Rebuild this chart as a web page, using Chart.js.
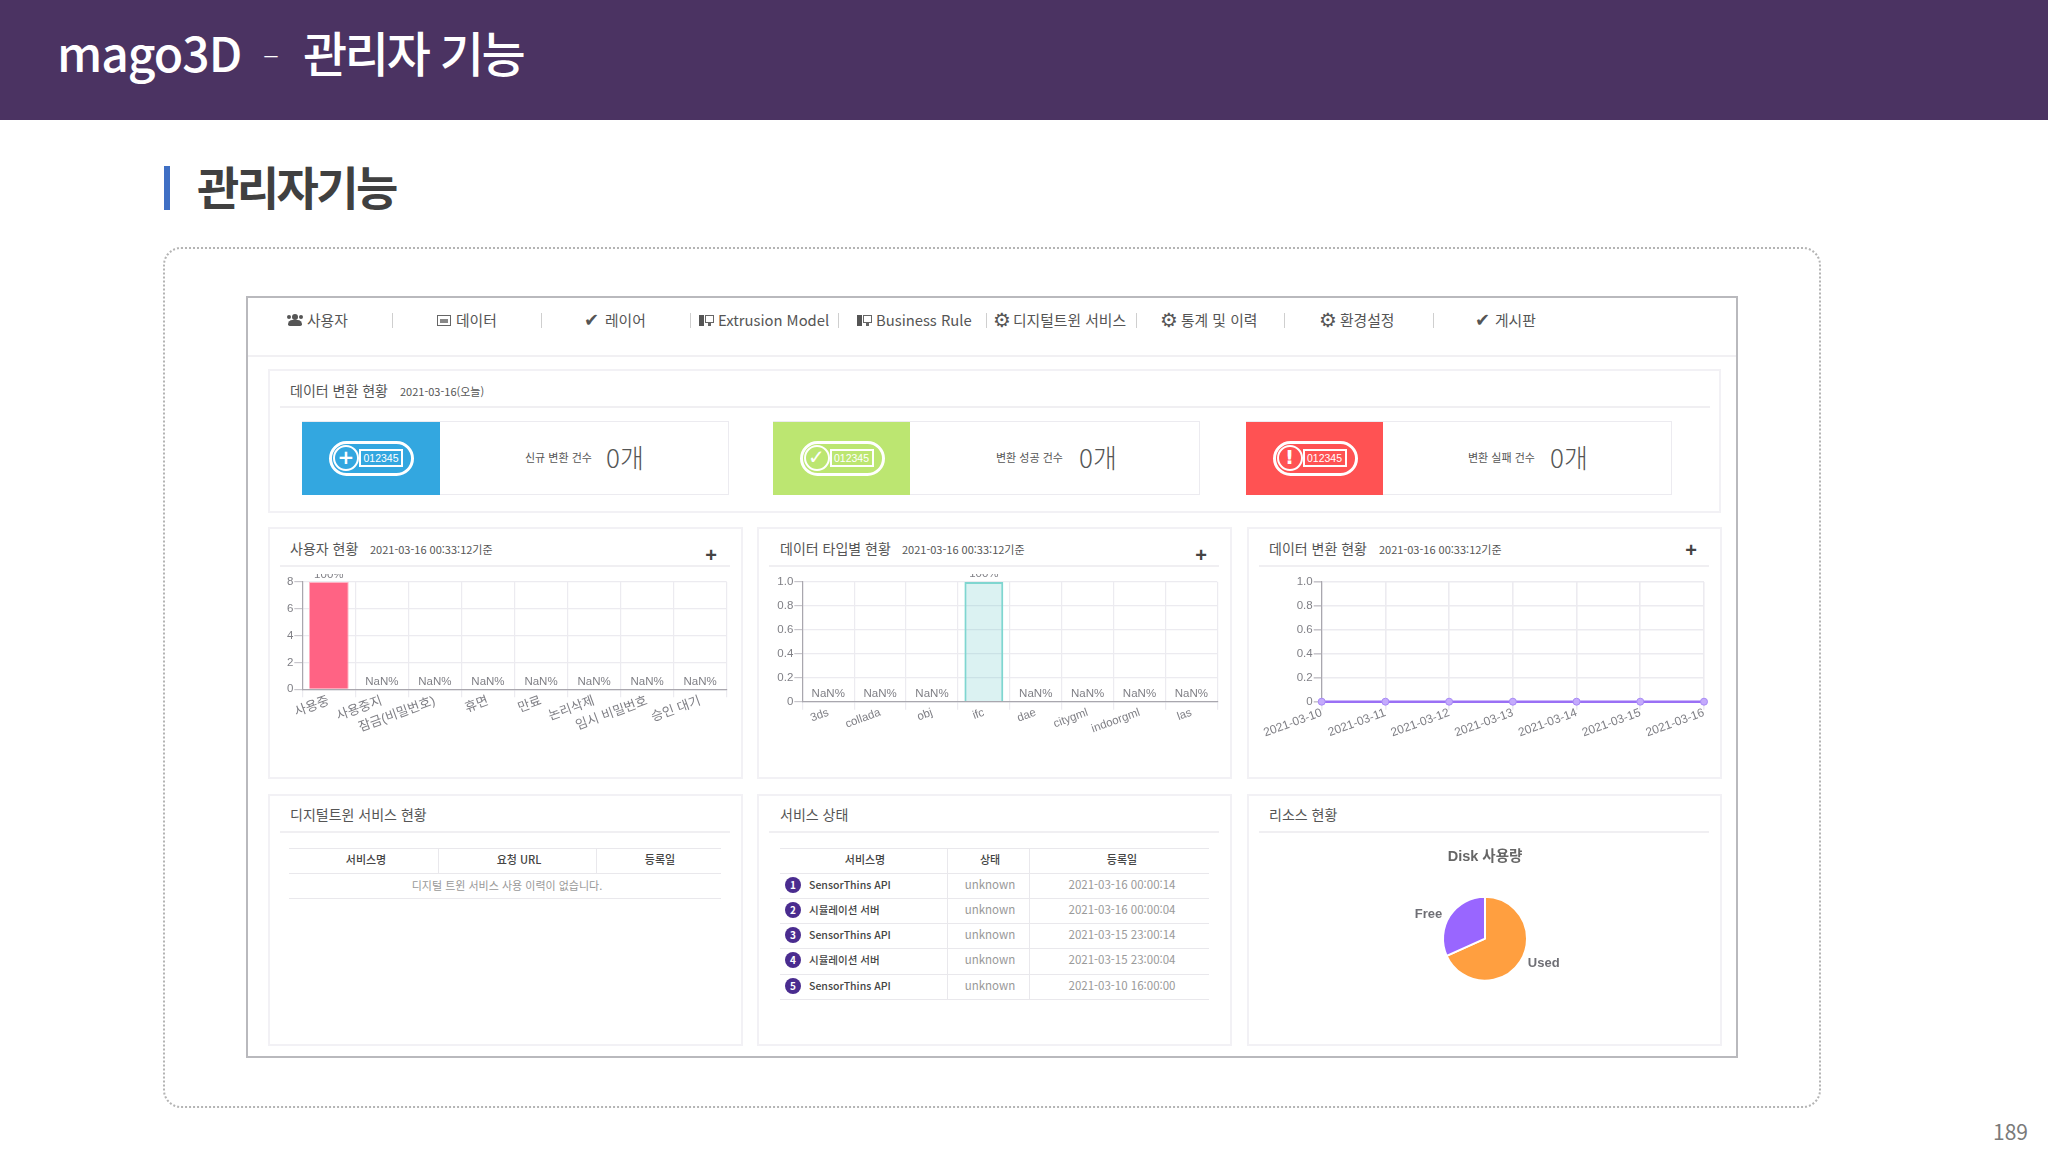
<!DOCTYPE html>
<html lang="ko"><head><meta charset="utf-8">
<script src="https://cdn.jsdelivr.net/npm/chart.js@4/dist/chart.umd.min.js"></script>
<style>
html,body{margin:0;padding:0;background:#fff;width:2048px;height:1152px;overflow:hidden}
body{font-family:"Noto Sans CJK KR","Noto Sans",sans-serif;position:relative}
.a{position:absolute;white-space:nowrap;line-height:1}
.b{position:absolute;box-sizing:border-box}
canvas{position:absolute;display:block}
</style></head><body>
<script>
// ---- chart data ----
const userCategories = ['사용중','사용중지','잠금(비밀번호)','휴면','만료','논리삭제','임시 비밀번호','승인 대기'];
const userValues = [8,0,0,0,0,0,0,0];
const userPercents = ['100%','NaN%','NaN%','NaN%','NaN%','NaN%','NaN%','NaN%'];
const typeCategories = ['3ds','collada','obj','ifc','dae','citygml','indoorgml','las'];
const typeValues = [0,0,0,1,0,0,0,0];
const typePercents = ['NaN%','NaN%','NaN%','100%','NaN%','NaN%','NaN%','NaN%'];
const convertDates = ['2021-03-10','2021-03-11','2021-03-12','2021-03-13','2021-03-14','2021-03-15','2021-03-16'];
const convertValues = [0,0,0,0,0,0,0];
const diskLabels = ['Used','Free'];
const diskValues = [68.3,31.7];
// ---- table data ----
const serviceNames = ['SensorThins API','시뮬레이션 서버','SensorThins API','시뮬레이션 서버','SensorThins API'];
const serviceStates = ['unknown','unknown','unknown','unknown','unknown'];
const serviceDates = ['2021-03-16 00:00:14','2021-03-16 00:00:04','2021-03-15 23:00:14','2021-03-15 23:00:04','2021-03-10 16:00:00'];

const body = document.body;
function T(s,x,y,size,color,weight,align){
  const e=document.createElement('div');e.className='a';e.textContent=s;
  e.style.cssText+=`left:${x}px;top:${y}px;font-size:${size}px;color:${color};font-weight:${weight||400};transform:translate(${align==='c'?'-50%':align==='r'?'-100%':'0'},-50%)`;
  body.appendChild(e);return e;
}
function B(x,y,w,h,css){
  const e=document.createElement('div');e.className='b';
  e.style.cssText+=`left:${x}px;top:${y}px;width:${w}px;height:${h}px;${css||''}`;
  body.appendChild(e);return e;
}
// slide chrome
B(0,0,2048,120,'background:#4b3362');
T('mago3D',57,51,48,'#fff',500).style.letterSpacing='-1px';
T('–',263,52,30,'#fff',300);
T('관리자 기능',303,51,48,'#fff',500).style.letterSpacing='-2.3px';
B(164,166,6,44,'background:#3f6fc4');
T('관리자기능',197,185,46,'#404040',700).style.letterSpacing='-2.6px';
B(163,247,1658,861,'border:2px dotted #b4b4b4;border-radius:18px');
T('189',2028,1131,21,'#7a7a7a',400,'r');
// screenshot frame
B(246,296,1492,762,'border:2px solid #b9b9bd;background:#fff');
B(248,355,1488,2,'background:#f1f0f3');
// nav
function icon(kind,x){
  if(kind==='check')T('✔',x,320,18,'#555',400).style.fontFamily='DejaVu Sans';
  else if(kind==='gear')T('⚙',x-1,320,20,'#555',700).style.fontFamily='DejaVu Sans';
  else if(kind==='users'){B(x+5,314,6,6,'background:#555;border-radius:50%');B(x+1,320,14,6,'background:#555;border-radius:5px 5px 2px 2px');B(x,315,4,4,'background:#555;border-radius:50%');B(x+12,315,4,4,'background:#555;border-radius:50%');}
  else if(kind==='data'){B(x,315,14,11,'border:1.5px solid #666');B(x+3,319,8,4,'background:#888');}
  else if(kind==='model'){B(x,315,5,11,'background:#555');B(x+6,315,9,8,'border:1.5px solid #666');B(x+9,323,3,3,'background:#666');}
}
[['users',287,'사용자',307],['data',437,'데이터',456],['check',584,'레이어',605],['model',699,'Extrusion Model',718],['model',857,'Business Rule',876],['gear',994,'디지털트윈 서비스',1013],['gear',1161,'통계 및 이력',1181],['gear',1320,'환경설정',1340],['check',1475,'게시판',1495]]
.forEach(n=>{icon(n[0],n[1]);T(n[2],n[3],320,14.8,'#555',400);});
[392,541,690,838,986,1136,1284,1433].forEach(x=>B(x,313,1,15,'background:#cfcfcf'));
// panels
const pb='border:2px solid #f2f1f5;background:#fff';
B(268,369,1453,144,pb);
B(280,406,1430,2,'background:#f0eff2');
T('데이터 변환 현황',290,390,14,'#555');
T('2021-03-16(오늘)',400,391,11,'#555');
function card(x,x2,x3,color,label,lx,nx,sym){
  B(x,421,x3-x,74,'border:1px solid #ecebf0');
  B(x,422,x2-x,73,'background:'+color);
  const cx=(x+x2)/2, cy=458;
  B(cx-42,cy-17.5,85,35,'border:3px solid #fff;border-radius:18px');
  B(cx-38,cy-13,26,26,'border:2.5px solid #fff;border-radius:50%');
  const s=T(sym,cx-25,cy-1,20,'#fff',700,'c');s.style.fontFamily='DejaVu Sans';
  B(cx-12,cy-9,44,18,'border:2px solid #fff');
  T('012345',cx+10,cy,10.5,'#fff',400,'c').style.fontFamily='Liberation Sans';
  T(label,lx,457,11,'#555');
  T('0개',nx,457,26,'#555',200);
}
card(302,440,729,'#33a7e0','신규 변환 건수',525,606,'+');
card(773,910,1200,'#bce671','변환 성공 건수',996,1079,'✓');
card(1246,1383,1672,'#ff5253','변환 실패 건수',1468,1550,'!');
function panel(x,y,title,tx,date,dx,plus,py){
  B(x,y,475,252,pb);
  B(x+12,y+(y<600?38:37),450,2,'background:#f0eff2');
  T(title,tx,y+(y<600?21:20),14,'#555');
  if(date)T(date,dx,y+22,11,'#555');
  if(plus)T('+',plus,py,20,'#444',700,'c').style.fontFamily='Liberation Sans';
}
panel(268,527,'사용자 현황',290,'2021-03-16 00:33:12기준',370,711,555);
panel(757,527,'데이터 타입별 현황',780,'2021-03-16 00:33:12기준',902,1201,555);
panel(1247,527,'데이터 변환 현황',1269,'2021-03-16 00:33:12기준',1379,1691,550);
panel(268,794,'디지털트윈 서비스 현황',290);
panel(757,794,'서비스 상태',780);
panel(1247,794,'리소스 현황',1269);
// tables
function hline(x,x2,y){B(x,y,x2-x,1,'background:#e9e8ec');}
function vline(x,y,y2){B(x,y,1,y2-y,'background:#e9e8ec');}
[848,873,898].forEach(y=>hline(289,721,y));
vline(438,848,873);vline(596,848,873);
T('서비스명',366,859,11,'#444',500,'c');T('요청 URL',519,859,11,'#444',500,'c');T('등록일',660,859,11,'#444',500,'c');
T('디지털 트윈 서비스 사용 이력이 없습니다.',507,884.5,11,'#999',400,'c');
[848,873,898,923,948,974,999].forEach(y=>hline(780,1209,y));
vline(947,848,999);vline(1029,848,999);
T('서비스명',865,859,11,'#444',500,'c');T('상태',990,859,11,'#444',500,'c');T('등록일',1122,859,11,'#444',500,'c');
serviceNames.forEach((n,i)=>{
  const y=884.7+i*25.2;
  B(785,y-8,16,16,'background:#4a2c8f;border-radius:50%');
  T(String(i+1),793,y,10,'#fff',700,'c');
  T(n,809,y,10.5,'#444',500);
  T(serviceStates[i],990,y,11.5,'#999',400,'c');
  T(serviceDates[i],1122,y,11.5,'#999',400,'c');
});

// ---- charts ----
const FF='"Liberation Sans","Noto Sans CJK KR",sans-serif';
const GRID='#ecebf0', AXIS='#a9a7ae', TXT='#7f7f85', YT={size:11.5};
Chart.defaults.animation=false;
Chart.defaults.font.family=FF;
Chart.defaults.devicePixelRatio=1;
function mk(x,y,w,h){
  const c=document.createElement('canvas');c.width=w;c.height=h;
  c.style.cssText=`left:${x}px;top:${y}px;width:${w}px;height:${h}px`;
  body.appendChild(c);return c.getContext('2d');
}
const percentLabels={id:'percentLabels',afterDatasetsDraw(ch,args,o){
  const ctx=ch.ctx,m=ch.getDatasetMeta(0);
  ctx.save();ctx.font='11.5px '+FF;ctx.fillStyle=TXT;ctx.textAlign='center';ctx.textBaseline='alphabetic';
  m.data.forEach((el,i)=>ctx.fillText(o.labels[i],el.x,el.y-o.gap));
  ctx.restore();
}};
function scales(yw,xh,yOpts,gridW,xSize){
  return {
    x:{grid:{color:GRID,tickLength:8,lineWidth:gridW||1.2,tickColor:GRID},border:{color:AXIS,width:1.2},
       afterFit:s=>{s.height=xh},
       ticks:{minRotation:20,maxRotation:20,autoSkip:false,color:TXT,font:{size:xSize||11.5},padding:-4}},
    y:Object.assign({grid:{color:GRID,tickLength:8,lineWidth:gridW||1.2,tickColor:'#c8c6cc'},border:{color:AXIS,width:1.2},
       afterFit:s=>{s.width=yw}},yOpts)
  };
}
const frac={min:0,max:1,ticks:{stepSize:.2,color:TXT,font:YT,padding:1,callback:v=>v===0?'0':v.toFixed(1)}};
new Chart(mk(272,574,466,190),{type:'bar',plugins:[percentLabels],
  data:{labels:userCategories,datasets:[{data:userValues,backgroundColor:'#ff6384',borderColor:'#ffb3c4',borderWidth:1,barPercentage:.75,categoryPercentage:1}]},
  options:{responsive:false,layout:{padding:{top:5.7,right:11.3}},
    plugins:{legend:{display:false},tooltip:{enabled:false},percentLabels:{labels:userPercents,gap:4}},
    scales:scales(30.3,74.7,{min:0,max:8,ticks:{stepSize:2,color:TXT,font:YT,padding:1}},1.2,13)}});
new Chart(mk(765,574,464,190),{type:'bar',plugins:[percentLabels],
  data:{labels:typeCategories,datasets:[{data:typeValues,backgroundColor:'rgba(75,192,192,.2)',borderColor:'#7fd6d0',borderWidth:2,barPercentage:.75,categoryPercentage:1}]},
  options:{responsive:false,layout:{padding:{top:5.7,right:11.7}},
    plugins:{legend:{display:false},tooltip:{enabled:false},percentLabels:{labels:typePercents,gap:5}},
    scales:scales(37.3,62.3,frac)}});
new Chart(mk(1250,574,466,190),{type:'line',
  data:{labels:convertDates,datasets:[{data:convertValues,borderColor:'#9a70f5',borderWidth:2.5,backgroundColor:'#c4aafc',pointBackgroundColor:'#c4aafc',pointBorderColor:'#a88af5',pointBorderWidth:1,pointRadius:3.5,clip:false,tension:0}]},
  options:{responsive:false,layout:{padding:{top:5.7,right:12}},
    plugins:{legend:{display:false},tooltip:{enabled:false}},
    scales:scales(71.7,62.3,frac,1.6,12)}});
const pieLabels={id:'pieLabels',afterDatasetsDraw(ch){
  const ctx=ch.ctx,m=ch.getDatasetMeta(0);
  ctx.save();ctx.font='bold 13px '+FF;ctx.fillStyle='#6f6f75';ctx.textBaseline='middle';
  m.data.forEach((el,i)=>{
    const {x,y,startAngle,endAngle}=el.getProps(['x','y','startAngle','endAngle'],true);
    const a=(startAngle+endAngle)/2,c=Math.cos(a),s=Math.sin(a);
    ctx.textAlign=c>=0?'left':'right';
    ctx.fillText(ch.data.labels[i],x+c*51,y+s*45);
  });
  ctx.restore();
}};
new Chart(mk(1340,840,290,157),{type:'pie',plugins:[pieLabels],
  data:{labels:diskLabels,datasets:[{data:diskValues,backgroundColor:['#ff9f40','#9966ff'],borderColor:'#fff',borderWidth:2,radius:42}]},
  options:{responsive:false,
    plugins:{legend:{display:false},tooltip:{enabled:false},
      title:{display:true,text:'Disk 사용량',color:'#666',font:{size:14.5,weight:'bold',family:FF},padding:{top:8,bottom:14.9}}}}});
</script>
</body></html>
